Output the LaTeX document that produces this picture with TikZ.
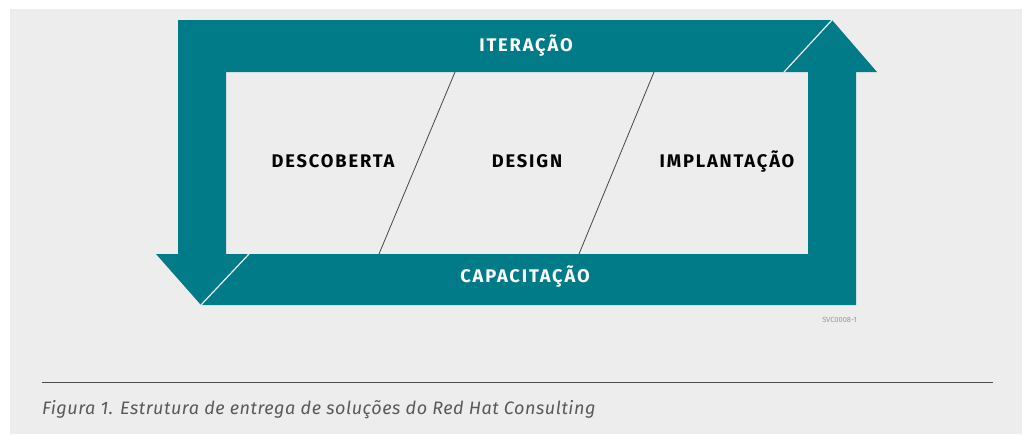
\documentclass[tikz,border=0pt]{standalone}
\usepackage{fontspec}
\setmainfont{Fira Sans}
\newfontfamily\labfont[LetterSpace=10]{Fira Sans Bold}
\newfontfamily\capfont[LetterSpace=3]{Fira Sans}
\newfontfamily\tinyfont{Fira Sans}
\definecolor{teal}{RGB}{0,123,135}
\definecolor{bg}{RGB}{237,237,237}
\definecolor{divln}{RGB}{70,70,70}
\begin{document}
\begin{tikzpicture}[x=1pt,y=-1pt,
  phase/.style={font=\labfont\fontsize{18.3}{21}\selectfont, text=black, inner sep=0pt, anchor=base},
  bar/.style={font=\labfont\fontsize{18.3}{21}\selectfont, text=white, inner sep=0pt, anchor=base},
  divider/.style={draw=divln, line width=0.8pt},
  gap/.style={draw=bg, line width=1.2pt}]
\useasboundingbox (0,0) rectangle (1027,434);
\fill[bg] (10,9) rectangle (1022,434);
% top bar with down arrow
\fill[teal] (178,20) -- (832,20) -- (784,72) -- (226,72) -- (226,254) -- (249,254)
  -- (201,305) -- (156,254) -- (178,254) -- cycle;
% bottom bar with up arrow
\fill[teal] (201,305) -- (249,254) -- (808,254) -- (808,72) -- (784,72) -- (832,20)
  -- (877,72) -- (856,72) -- (856,305) -- cycle;
\coordinate (g1a) at (832,20); \coordinate (g1b) at (784,72);
\coordinate (g2a) at (249,254); \coordinate (g2b) at (201,305);
\draw[gap] (g1a) -- (g1b);
\draw[gap] (g2a) -- (g2b);
% dividers
\coordinate (d1a) at (455,72); \coordinate (d1b) at (379,254);
\coordinate (d2a) at (654,72); \coordinate (d2b) at (579,254);
\draw[divider] (d1a) -- (d1b);
\draw[divider] (d2a) -- (d2b);
% labels
\node[bar] (iter) at (526,51) {ITERAÇÃO};
\node[bar] (capa) at (525,282) {CAPACITAÇÃO};
\node[phase] (desc) at (333,167) {DESCOBERTA};
\node[phase] (desi) at (527,167) {DESIGN};
\node[phase] (impl) at (727,167) {IMPLANTAÇÃO};
\node[anchor=east, inner sep=0pt, text=gray!80, font=\tinyfont\fontsize{7.5}{8}\selectfont] (svc) at (857,320) {SVC0008-1};
% rule and caption
\coordinate (r1) at (42,382); \coordinate (r2) at (993,382);
\draw[draw=black!70, line width=1pt] (r1) -- (r2);
\node[anchor=base west, inner sep=0pt, text=black!65, font=\capfont\itshape\fontsize{18}{21}\selectfont] (cap) at (42,414) {Figura 1. Estrutura de entrega de soluções do Red Hat Consulting};
\end{tikzpicture}
\end{document}
